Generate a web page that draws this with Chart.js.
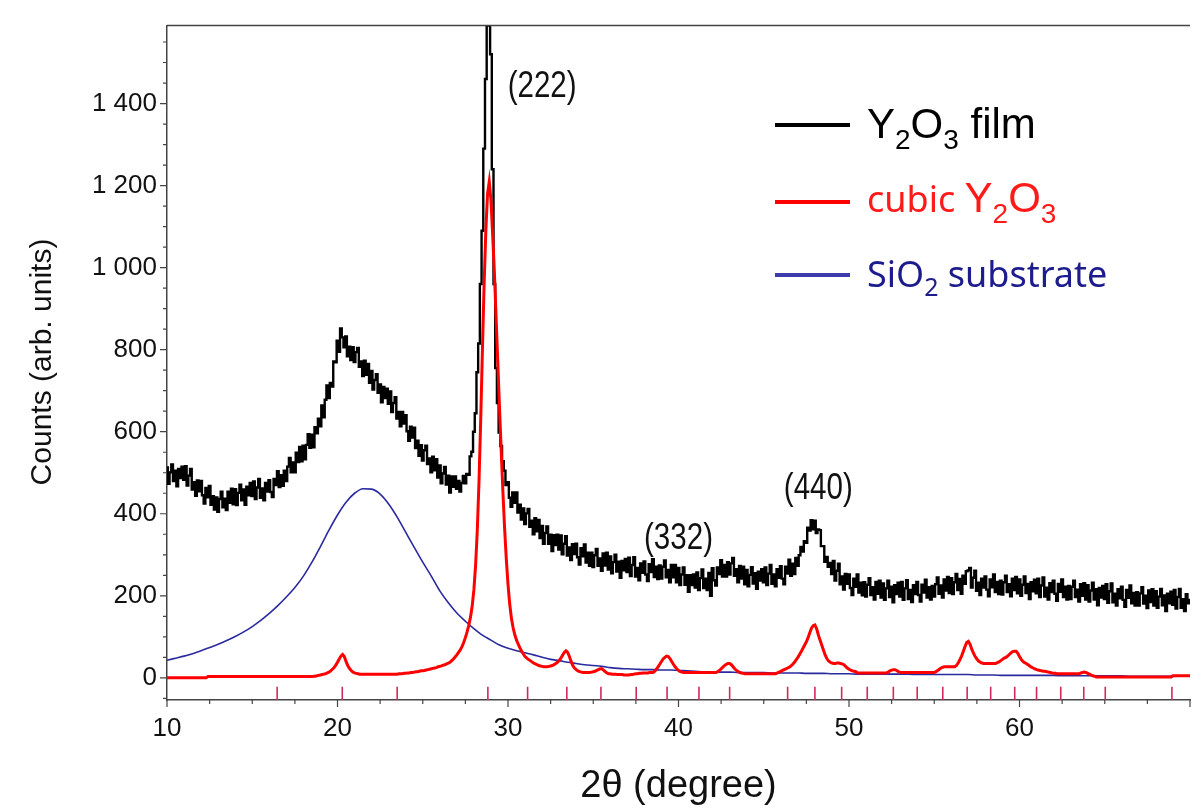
<!DOCTYPE html>
<html>
<head>
<meta charset="utf-8">
<script src="https://cdn.jsdelivr.net/npm/chart.js@4.4.0/dist/chart.umd.min.js"></script>
<style>
html, body { margin: 0; padding: 0; background: #fff; }
canvas { display: block; }
</style>
</head>
<body>
<canvas id="xrdChart" width="1203" height="809"></canvas>
<script>
// 2theta grid of the measured / calculated patterns (degree)
const scanStart = 10.0;
const scanStep = 0.1;

// Y2O3 film, measured counts, one row per degree (10.0 .. 69.9, then 70.0)
const filmCounts = [
  513,473,501,520,480,505,467,509,487,515,
  483,516,469,493,509,459,477,444,481,455,
  480,445,425,463,440,468,422,443,410,440,
  405,436,454,416,437,409,454,427,461,423,
  460,421,451,471,433,459,422,466,445,475,
  443,479,436,464,485,439,462,433,475,454,
  482,453,441,485,470,504,465,494,468,505,
  480,515,536,501,525,501,549,526,563,528,
  566,533,568,594,561,593,562,611,596,632,
  613,664,635,678,713,682,719,710,771,769,
  822,795,852,830,806,832,784,807,775,806,
  770,794,804,758,771,736,773,739,765,719,
  748,703,726,740,695,715,672,709,682,705,
  668,698,648,670,684,632,648,613,648,620,
  640,601,578,612,586,610,560,578,541,567,
  530,555,566,521,535,501,539,506,533,488,
  518,474,498,514,471,493,452,491,466,491,
  461,480,454,475,492,474,497,495,540,551,
  600,645,745,815,960,1090,1290,1460,1590,1590,
  1520,1240,960,755,670,598,565,528,505,470,
  477,439,417,452,427,452,403,422,386,413,
  375,401,412,368,383,350,389,357,385,341,
  370,327,353,369,327,349,309,348,324,349,
  313,347,301,327,345,298,318,287,326,302,
  327,294,276,316,296,325,281,305,273,305,
  270,299,314,273,291,261,303,274,305,264,
  296,255,282,300,259,283,244,285,262,290,
  258,293,248,275,294,247,268,238,279,256,
  284,252,236,277,258,289,246,271,241,274,
  242,271,286,245,263,233,275,245,275,233,
  268,226,252,269,227,250,210,250,226,252,
  220,257,214,243,264,219,242,214,256,200,
  267,238,225,269,253,287,247,275,247,282,
  252,279,292,249,265,233,273,242,271,228,
  263,223,251,270,230,255,217,259,237,265,
  233,269,226,254,275,229,252,223,265,244,
  272,242,228,271,254,288,249,278,253,292,
  273,299,319,308,333,329,366,359,384,362,
  383,353,362,360,321,321,283,295,271,280,
  253,285,237,261,278,228,247,215,253,229,
  252,219,202,242,222,252,208,232,201,233,
  198,227,243,202,221,191,234,205,237,196,
  230,190,218,237,197,222,184,226,204,232,
  198,234,190,218,238,192,214,185,226,204,
  234,202,186,227,208,239,196,221,191,224,
  198,228,245,205,225,196,240,213,246,207,
  243,204,233,253,214,241,205,249,229,260,
  262,268,220,244,261,212,232,202,242,220,
  247,215,199,240,221,252,209,234,204,237,
  203,233,249,209,228,199,242,214,246,206,
  240,200,227,247,207,229,192,233,211,239,
  206,242,197,225,245,198,220,191,231,209,
  237,205,188,229,210,240,197,222,191,224,
  192,222,237,197,215,186,228,200,231,191,
  226,186,213,232,191,216,177,219,196,224,
  192,228,183,211,230,184,205,176,216,194,
  222,190,173,214,195,225,182,207,176,209,
  176,206,221,181,200,170,213,185,216,176,
  211,171,198,217,177,201,163,205,182,210,
  178,214,169,197,217,171,192,163,204,182,
  190
];

// cubic Y2O3, calculated pattern on the same grid
const cubicCounts = [
  0,0,0,0,0,0,0,0,0,0,
  0,0,0,0,0,0,0,0,0,0,
  0,0,0,0,3,3,3,3,3,3,
  3,3,3,3,3,3,3,3,3,3,
  3,3,3,3,3,3,3,3,3,3,
  3,3,3,3,3,3,3,3,3,3,
  3,3,3,3,3,3,3,3,3,3,
  3,3,3,3,3,3,3,3,3,3,
  3,3,3,3,3,3,4,4,5,6,
  7,8,9,10,12,14,17,21,25,31,
  38,46,53,57,52,40,30,23,18,14,
  12,11,10,9,9,9,9,9,9,9,
  9,9,9,9,9,9,9,9,9,9,
  9,9,9,9,9,9,10,10,10,11,
  11,12,12,13,13,14,15,15,16,17,
  17,18,19,20,21,22,23,24,25,27,
  28,29,31,32,34,36,38,42,46,51,
  56,62,68,76,86,98,112,128,148,175,
  215,275,360,480,630,800,960,1090,1180,1210,
  1165,1080,990,880,770,660,555,455,365,290,
  228,180,145,122,105,92,82,73,65,58,
  52,48,45,42,39,36,34,32,30,29,
  28,27,27,27,28,29,30,32,35,38,
  42,48,55,62,66,62,52,40,30,24,
  20,17,15,14,13,13,13,13,13,14,
  15,16,18,20,22,22,19,15,12,10,
  10,9,9,9,8,8,8,8,7,7,
  7,7,8,8,9,10,10,11,11,12,
  12,12,12,13,13,13,16,21,27,33,
  40,46,50,53,52,47,40,33,27,22,
  18,15,14,13,13,13,13,13,13,13,
  13,13,13,13,13,13,13,13,13,13,
  13,13,13,15,18,22,26,30,33,35,
  35,32,27,22,18,15,13,12,11,10,
  10,10,10,10,10,10,10,10,10,10,
  10,10,10,10,10,10,10,10,12,14,
  16,18,20,22,24,26,29,33,38,44,
  50,57,64,72,80,88,98,110,121,127,
  129,120,105,92,80,68,56,47,41,38,
  36,35,35,36,36,35,34,32,28,24,
  21,19,17,16,15,12,12,12,12,12,
  12,12,12,12,12,12,12,12,12,12,
  12,12,12,14,17,19,20,20,18,15,
  13,13,13,13,13,13,13,13,13,13,
  13,13,13,13,13,13,13,13,13,13,
  13,15,18,21,24,26,27,27,27,27,
  27,27,27,30,36,44,53,64,76,86,
  89,82,70,60,52,46,41,38,36,35,
  35,35,35,35,35,35,35,37,39,42,
  45,48,50,53,57,61,64,65,65,60,
  52,45,40,37,35,32,29,26,24,22,
  20,19,18,17,16,16,15,14,13,12,
  11,11,10,10,10,10,10,10,10,10,
  10,10,10,10,10,10,12,13,14,13,
  11,9,7,5,4,2,2,2,2,2,
  2,2,2,2,2,2,2,2,2,2,
  2,2,2,2,2,2,2,2,2,2,
  2,2,2,2,2,2,2,2,2,2,
  2,2,2,2,2,2,2,2,2,2,
  5,5,5,5,5,5,5,5,5,5,
  5
];

// SiO2 substrate (amorphous hump), every 0.5 degree
const substrateStep = 0.5;
const substrateCounts = [
  43,48,53,59,66,74,82,91,101,112,
  125,140,157,176,197,220,248,282,320,360,
  397,428,450,461,460,448,424,392,355,318,
  282,248,212,183,158,138,120,104,92,80,
  72,66,61,56,50,45,42,38,35,32,
  30,28,25,23,22,21,20,20,19,19,
  18,17,16,15,15,14,14,13,13,13,
  13,12,12,12,12,11,11,11,10,10,
  10,9,9,9,9,9,9,9,8,8,
  8,8,8,8,8,7,7,7,6,6,
  6,6,6,6,6,5,5,5,5,5,
  5,5,5,4,4,4,4,4,4,4,
  4
];

// reflection positions of cubic Y2O3 (red marks under the baseline)
const braggPositions = [16.46, 20.28, 23.5, 28.82, 31.15, 33.45, 35.45, 37.52, 39.33, 41.2,
  43.0, 46.4, 48.0, 49.57, 51.07, 52.6, 54.0, 55.5, 56.93, 58.31, 59.72, 61.0, 62.42,
  63.77, 65.03, 68.94];
const braggLevel = -38;

// peak labels: text, level (counts), centre 2theta
const peakLabels = ['(222)', '(332)', '(440)'];
const peakLabelLevels = [1440, 338, 460];
const peakLabelPos = [32.0, 40.0, 48.2];

const xTickLabels = [10, 20, 30, 40, 50, 60];
const yTickLabels = [0, 200, 400, 600, 800, 1000, 1200, 1400];

const toPoints = (vals, start, step) =>
  vals.map((v, i) => ({ x: +(start + i * step).toFixed(2), y: v }));

const FONT = '"Liberation Sans", Arial, sans-serif';
const HUMAN = '"Noto Sans", "Open Sans", sans-serif';

function drawParts(ctx, x, y, parts) {
  for (const p of parts) {
    ctx.font = p.font;
    ctx.fillStyle = p.color;
    ctx.fillText(p.text, x, y + (p.dy || 0));
    x += ctx.measureText(p.text).width;
  }
}

const overlay = {
  id: 'overlay',
  afterDraw(chart) {
    const { ctx, chartArea: a, scales: { x, y } } = chart;
    ctx.save();
    ctx.strokeStyle = '#444';
    ctx.lineWidth = 1.5;
    // top frame line
    ctx.beginPath();
    ctx.moveTo(a.left, a.top);
    ctx.lineTo(a.right, a.top);
    ctx.stroke();
    // major / minor ticks
    ctx.lineWidth = 1.2;
    ctx.beginPath();
    for (let v = 10; v <= 70; v += 2.5) {
      const px = x.getPixelForValue(v);
      const len = v % 10 === 0 ? 7 : 4;
      ctx.moveTo(px, a.bottom);
      ctx.lineTo(px, a.bottom + len);
    }
    for (let v = -50; v <= 1550; v += 50) {
      const py = y.getPixelForValue(v);
      const len = v % 200 === 0 ? 7 : 4;
      ctx.moveTo(a.left, py);
      ctx.lineTo(a.left - len, py);
    }
    ctx.stroke();

    // axis titles
    ctx.fillStyle = '#111';
    ctx.textAlign = 'center';
    ctx.textBaseline = 'middle';
    ctx.font = '38px ' + FONT;
    ctx.fillText('2\u03B8 (degree)', (a.left + a.right) / 2, 787);
    ctx.save();
    ctx.translate(43, 362);
    ctx.rotate(-Math.PI / 2);
    ctx.font = '30px ' + FONT;
    ctx.fillText('Counts (arb. units)', 0, 0);
    ctx.restore();

    // peak labels (narrowed Arial look)
    ctx.font = '36px ' + FONT;
    peakLabels.forEach((t, i) => {
      ctx.save();
      ctx.translate(x.getPixelForValue(peakLabelPos[i]), y.getPixelForValue(peakLabelLevels[i]));
      ctx.scale(0.82, 1);
      ctx.fillText(t, 0, 0);
      ctx.restore();
    });

    // legend
    ctx.textAlign = 'left';
    ctx.textBaseline = 'alphabetic';
    const big = '42px ' + FONT, sub = '28px ' + FONT;
    const rows = [
      { y: 125, base: 138, line: '#000', parts: [
        { text: 'Y', font: big, color: '#000' }, { text: '2', font: sub, color: '#000', dy: 11 },
        { text: 'O', font: big, color: '#000' }, { text: '3', font: sub, color: '#000', dy: 11 },
        { text: ' film', font: big, color: '#000' }] },
      { y: 202, base: 212, line: '#ff0000', parts: [
        { text: 'cubic ', font: '36px ' + HUMAN, color: '#ff1a1a' },
        { text: 'Y', font: big, color: '#ff1a1a' }, { text: '2', font: sub, color: '#ff1a1a', dy: 11 },
        { text: 'O', font: big, color: '#ff1a1a' }, { text: '3', font: sub, color: '#ff1a1a', dy: 11 }] },
      { y: 275, base: 287, line: '#3c3cab', parts: [
        { text: 'SiO', font: '36px ' + HUMAN, color: '#1c1c8c' },
        { text: '2', font: '25px ' + HUMAN, color: '#1c1c8c', dy: 9 },
        { text: ' substrate', font: '36px ' + HUMAN, color: '#1c1c8c' }] }
    ];
    for (const r of rows) {
      ctx.strokeStyle = r.line;
      ctx.lineWidth = 4;
      ctx.beginPath();
      ctx.moveTo(775, r.y);
      ctx.lineTo(850, r.y);
      ctx.stroke();
      drawParts(ctx, 867, r.base, r.parts);
    }
    ctx.restore();
  }
};

const ctx = document.getElementById('xrdChart').getContext('2d');
new Chart(ctx, {
  type: 'line',
  data: {
    datasets: [
      {
        label: 'cubic Y2O3',
        data: toPoints(cubicCounts, scanStart, scanStep),
        borderColor: '#ff0000',
        borderWidth: 3,
        pointRadius: 0,
        order: 0
      },
      {
        label: 'Y2O3 film',
        data: toPoints(filmCounts, scanStart, scanStep),
        borderColor: '#000',
        borderWidth: 2.4,
        stepped: 'middle',
        pointRadius: 0,
        order: 1
      },
      {
        label: 'SiO2 substrate',
        data: toPoints(substrateCounts, scanStart, substrateStep),
        borderColor: '#2a2aa0',
        borderWidth: 1.6,
        cubicInterpolationMode: 'monotone',
        pointRadius: 0,
        order: 2
      },
      {
        label: 'reflections',
        data: braggPositions.map(p => ({ x: p, y: braggLevel })),
        showLine: false,
        pointStyle: 'line',
        rotation: 90,
        pointRadius: 6.6,
        borderColor: '#d02a5a',
        borderWidth: 1.6,
        order: 3
      }
    ]
  },
  options: {
    responsive: false,
    devicePixelRatio: 1,
    animation: false,
    layout: { padding: { top: 10, left: 0, right: 0, bottom: 0 } },
    plugins: { legend: { display: false }, tooltip: { enabled: false } },
    scales: {
      x: {
        type: 'linear',
        min: 10,
        max: 70,
        border: { color: '#444', width: 1.5 },
        grid: { drawOnChartArea: false, drawTicks: false },
        ticks: {
          stepSize: 10,
          padding: 13,
          color: '#111',
          font: { family: FONT, size: 26 },
          callback: v => xTickLabels.includes(v) ? String(v) : ''
        },
        afterFit: s => { s.height = 109; }
      },
      y: {
        min: -54,
        max: 1590,
        border: { color: '#444', width: 1.5 },
        grid: { drawOnChartArea: false, drawTicks: false },
        ticks: {
          stepSize: 200,
          includeBounds: false,
          padding: 10,
          color: '#111',
          font: { family: FONT, size: 26 },
          callback: v => yTickLabels.includes(v)
            ? (v >= 1000 ? String(v).replace(/(\d)(\d{3})$/, '$1 $2') : String(v))
            : ''
        },
        afterFit: s => { s.width = 167; }
      }
    }
  },
  plugins: [overlay]
});
</script>
</body>
</html>
